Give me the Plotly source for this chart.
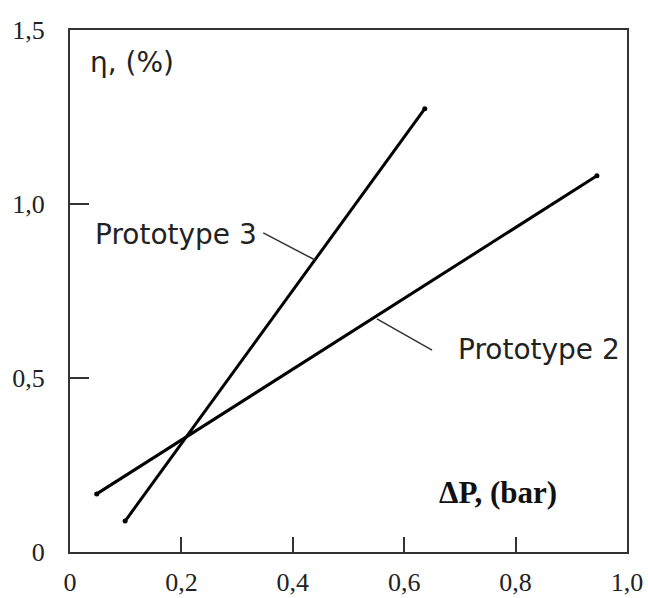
import plotly.graph_objects as go

# Data
p2_x = [0.048, 0.946]
p2_y = [0.167, 1.081]
p3_x = [0.099, 0.637]
p3_y = [0.089, 1.274]

x_ticks = [0, 0.2, 0.4, 0.6, 0.8, 1.0]
x_ticktext = ["0", "0,2", "0,4", "0,6", "0,8", "1,0"]
y_ticks = [0, 0.5, 1.0, 1.5]
y_ticktext = ["0", "0,5", "1,0", "1,5"]

fig = go.Figure()
for xs, ys, name in [(p2_x, p2_y, "Prototype 2"), (p3_x, p3_y, "Prototype 3")]:
    fig.add_trace(go.Scatter(x=xs, y=ys, mode="lines+markers", name=name,
                             line=dict(color="black", width=3),
                             marker=dict(color="black", size=5),
                             showlegend=False, hoverinfo="skip"))

ax_common = dict(showline=True, linecolor="#333333", linewidth=2, mirror=True,
                 showgrid=False, zeroline=False, ticks="inside", tickwidth=2,
                 tickcolor="#333333", automargin=False,
                 tickfont=dict(family="Liberation Serif", size=26, color="#222222"))

fig.update_xaxes(range=[0, 1.0], tickvals=x_ticks, ticktext=x_ticktext,
                 ticklen=15, ticklabelstandoff=6, **ax_common)
fig.update_yaxes(range=[0, 1.5], tickvals=y_ticks, ticktext=y_ticktext,
                 ticklen=19, ticklabelstandoff=18, **ax_common)

sans = dict(family="DejaVu Sans", size=28, color="#222222")
fig.add_annotation(x=0.041, y=0.911, text="Prototype 3", showarrow=False,
                   xanchor="left", yanchor="middle", font=sans)
fig.add_annotation(x=0.693, y=0.583, text="Prototype 2", showarrow=False,
                   xanchor="left", yanchor="middle", font=sans)
fig.add_annotation(x=0.032, y=1.408, text="η, (%)", showarrow=False,
                   xanchor="left", yanchor="middle", font=sans)
fig.add_annotation(x=0.659, y=0.170, text="<b>ΔP, (bar)</b>", showarrow=False,
                   xanchor="left", yanchor="middle",
                   font=dict(family="Liberation Serif", size=31, color="#111111"))

fig.add_shape(type="line", x0=0.347, y0=0.917, x1=0.440, y1=0.839,
              line=dict(color="#333333", width=1.5))
fig.add_shape(type="line", x0=0.551, y0=0.670, x1=0.650, y1=0.580,
              line=dict(color="#333333", width=1.5))

fig.update_layout(width=648, height=598,
                  margin=dict(l=70, r=21, t=30, b=46),
                  plot_bgcolor="white", paper_bgcolor="white")

fig.write_html("out.html")
